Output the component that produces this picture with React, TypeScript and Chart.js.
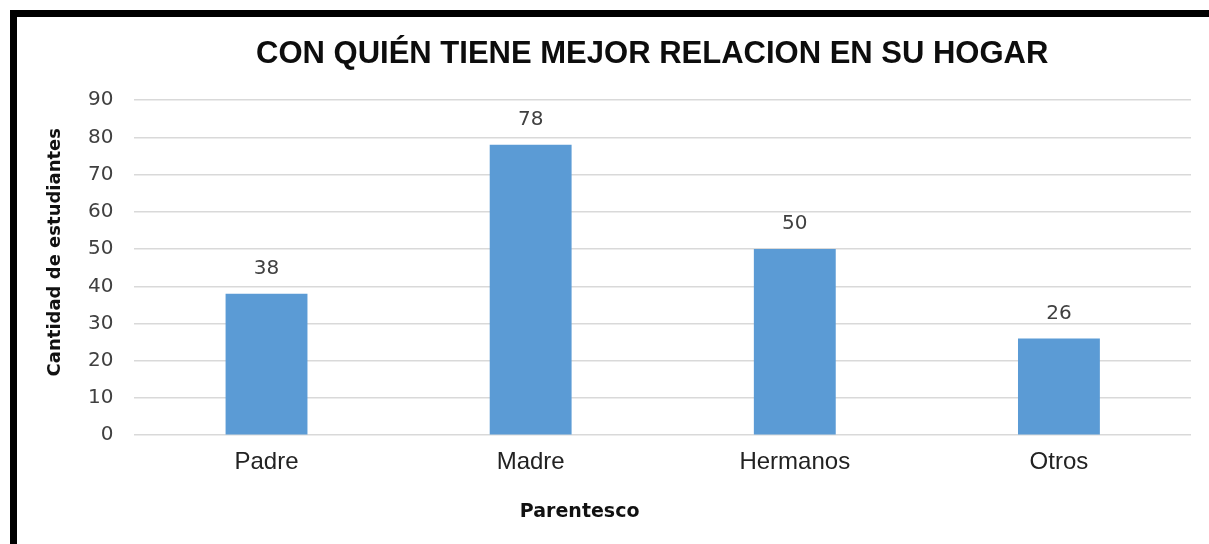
import React, { useEffect, useRef } from "react";
import { Chart, registerables } from "chart.js";

Chart.register(...registerables);

const categories = ["Padre", "Madre", "Hermanos", "Otros"];
const values = [38, 78, 50, 26];
const yTicks = [0, 10, 20, 30, 40, 50, 60, 70, 80, 90];
const titleText = "CON QUIÉN TIENE MEJOR RELACION EN SU HOGAR";
const yTitle = "Cantidad de estudiantes";
const xTitle = "Parentesco";

const CANVAS_W = 1209;
const CANVAS_H = 544;

const valueLabels = {
  id: "valueLabels",
  afterDatasetsDraw(chart: any) {
    const ctx = chart.ctx;
    const meta = chart.getDatasetMeta(0);
    ctx.save();
    ctx.font = "20px 'DejaVu Sans'";
    ctx.fillStyle = "#404040";
    ctx.textAlign = "center";
    ctx.textBaseline = "middle";
    meta.data.forEach((bar: any, i: number) => {
      ctx.fillText(String(values[i]), bar.x, bar.y - 25);
    });
    ctx.restore();
  },
};

// Chart title sits a little left of the plot centre in the reference
const titleShift = {
  id: "titleShift",
  afterLayout(chart: any) {
    if (chart.titleBlock) {
      chart.titleBlock.left -= 21;
    }
  },
};

// Axis titles, placed off-centre as in the reference
const axisTitles = {
  id: "axisTitles",
  afterDraw(chart: any) {
    const ctx = chart.ctx;
    const area = chart.chartArea;
    const xs = chart.scales.x;
    ctx.save();
    ctx.fillStyle = "#111111";
    ctx.textAlign = "center";
    ctx.textBaseline = "middle";
    ctx.font = "bold 19px 'DejaVu Sans'";
    ctx.fillText(xTitle, area.left + area.width * 0.4214, xs.bottom + 30);
    ctx.translate(55.5, (area.top + area.bottom) / 2 - 15.5);
    ctx.rotate(-Math.PI / 2);
    ctx.font = "bold 18px 'DejaVu Sans'";
    ctx.fillText(yTitle, 0, 0);
    ctx.restore();
  },
};

export default function App() {
  const ref = useRef<HTMLCanvasElement | null>(null);

  useEffect(() => {
    document.body.style.margin = "0";
    document.body.style.background = "#fff";
    const canvas = ref.current;
    if (!canvas) return;
    const chart = new Chart(canvas, {
      type: "bar",
      data: {
        labels: categories,
        datasets: [
          {
            data: values,
            backgroundColor: "#5b9bd5",
            borderWidth: 0,
            categoryPercentage: 1,
            barPercentage: 0.31,
          },
        ],
      },
      options: {
        animation: false,
        responsive: false,
        maintainAspectRatio: false,
        layout: { padding: { left: 67, right: CANVAS_W - 1191, top: 0, bottom: 62 } },
        plugins: {
          legend: { display: false },
          tooltip: { enabled: false },
          title: {
            display: true,
            fullSize: false,
            text: titleText,
            color: "#0d0d0d",
            font: { family: "'Liberation Sans', Arial", size: 31, weight: "bold" },
            padding: { top: 36, bottom: 27 },
          },
        },
        scales: {
          x: {
            grid: { display: false },
            border: { display: false },
            ticks: {
              color: "#222222",
              padding: 5,
              font: { family: "'Liberation Sans', Arial", size: 24 },
            },
            title: { display: false },
          },
          y: {
            min: 0,
            max: 90,
            afterBuildTicks(scale: any) {
              scale.ticks = yTicks.map((v) => ({ value: v }));
            },
            grid: { color: "#d9d9d9", lineWidth: 1.5, drawTicks: false },
            border: { display: false },
            ticks: {
              color: "#404040",
              padding: 21,
              font: { family: "'DejaVu Sans'", size: 20 },
            },
            title: { display: false },
          },
        },
      },
      plugins: [titleShift, valueLabels, axisTitles],
    });
    return () => chart.destroy();
  }, []);

  return (
    <div style={{ position: "fixed", left: 0, top: 0, width: 1209, height: 544, overflow: "hidden", background: "#fff" }}>
      <canvas ref={ref} width={CANVAS_W} height={CANVAS_H} style={{ position: "absolute", left: 0, top: 0, width: CANVAS_W, height: CANVAS_H }} />
      <div
        style={{
          position: "absolute",
          left: 10,
          top: 10,
          width: 1400,
          height: 700,
          borderTop: "7px solid #000",
          borderLeft: "7px solid #000",
          pointerEvents: "none",
        }}
      />
    </div>
  );
}
